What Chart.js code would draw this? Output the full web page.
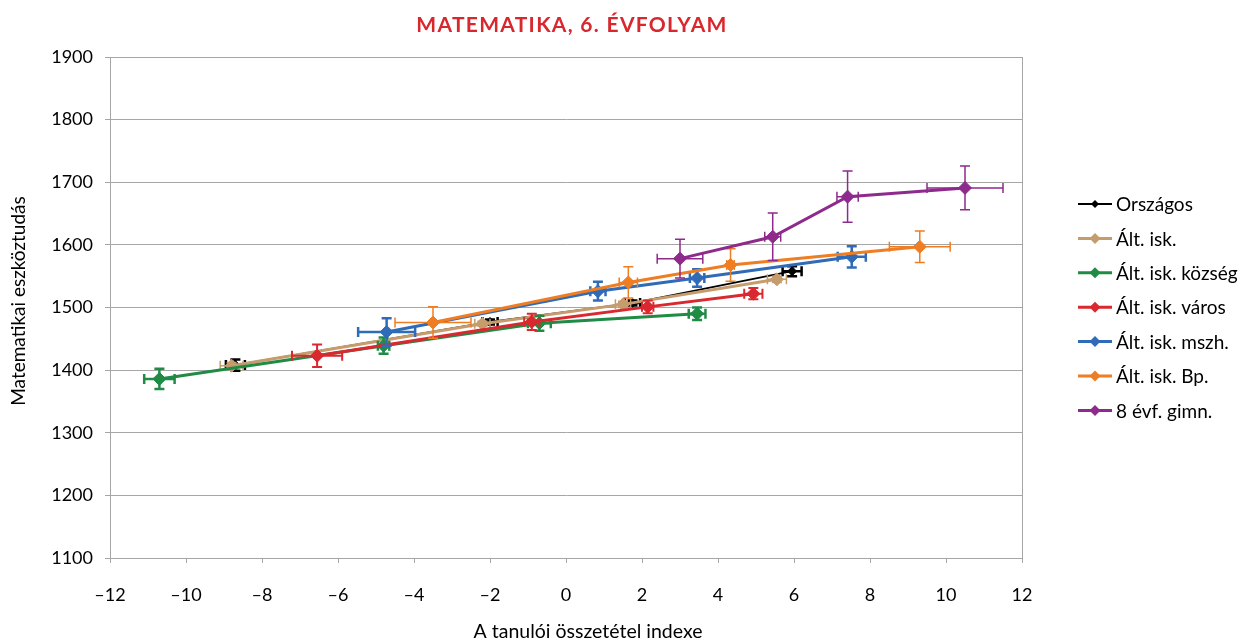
<!DOCTYPE html>
<html>
<head>
<meta charset="utf-8">
<script src="https://cdn.jsdelivr.net/npm/chart.js@4.4.1/dist/chart.umd.min.js"></script>
<style>
  html, body { margin: 0; padding: 0; background: #fff; }
  #wrap { width: 1246px; height: 643px; position: relative; }
</style>
</head>
<body>
<div id="wrap"><canvas id="chart"></canvas></div>
<script>
// series
const seriesNames = ['Országos', 'Ált. isk.', 'Ált. isk. község', 'Ált. isk. város', 'Ált. isk. mszh.', 'Ált. isk. Bp.', '8 évf. gimn.'];
const seriesColors = ['#000000', '#c69c6d', '#1f8b45', '#d9282f', '#2f6bb7', '#ee7d23', '#8e2a8c'];

// összetétel index (x)
const indexX = [
    [-8.7, -2.0, 1.75, 5.95],
    [-8.8, -2.2, 1.5, 5.55],
    [-10.7, -4.8, -0.7, 3.45],
    [-6.55, -0.9, 2.15, 4.93],
    [-4.72, 0.84, 3.45, 7.52],
    [-3.5, 1.64, 4.33, 9.31],
    [3.0, 5.44, 7.41, 10.5]
];
// eszköztudás (y)
const scoreY = [
    [1408, 1477, 1507, 1558],
    [1407, 1474, 1505, 1545],
    [1386, 1439, 1475, 1490],
    [1423, 1477, 1501, 1522],
    [1461, 1526, 1547, 1581],
    [1476, 1540, 1568, 1597],
    [1578, 1613, 1677, 1691]
];
// error bars (half widths)
const indexErr = [
    [0.25, 0.2, 0.2, 0.25],
    [0.3, 0.2, 0.2, 0.25],
    [0.4, 0.15, 0.3, 0.22],
    [0.66, 0.2, 0.15, 0.24],
    [0.75, 0.2, 0.19, 0.37],
    [1.0, 0.24, 0.1, 0.8],
    [0.6, 0.21, 0.28, 1.0]
];
const scoreErr = [
    [9, 4, 4, 8],
    [5, 4, 5, 5],
    [16, 13, 12, 10],
    [18, 13, 10, 9],
    [22, 15, 14, 17],
    [25, 25, 26, 25],
    [31, 38, 41, 35]
];

const chartTitle = 'MATEMATIKA, 6. ÉVFOLYAM';
const xTitle = 'A tanulói összetétel indexe';
const yTitle = 'Matematikai eszköztudás';

const FONT = 'Lato, "Open Sans", sans-serif';
const GRID = '#a6a6a6';

const lineWidths = [1.8, 3, 3, 3, 3, 3, 3];
const errWidths = [2.5, 1.5, 2.5, 2, 2.5, 1.5, 1.5];

const datasets = seriesNames.map((name, i) => ({
    label: name,
    data: indexX[i].map((x, j) => ({ x: x, y: scoreY[i][j] })),
    borderColor: seriesColors[i],
    backgroundColor: seriesColors[i],
    borderWidth: lineWidths[i],
    pointStyle: 'rectRot',
    pointRadius: i === 0 ? 4.5 : 6.5,
    pointBorderWidth: 1,
    showLine: true,
    tension: 0,
    order: seriesNames.length - 1 - i   // later series on top, like the original
}));

// x and y error bars, drawn under each series' own markers
const errorBars = {
    id: 'errorBars',
    beforeDatasetDraw(chart, args) {
        const i = args.index;
        const xs = chart.scales.x, ys = chart.scales.y;
        const ctx = chart.ctx;
        const cap = 5;
        ctx.save();
        ctx.strokeStyle = seriesColors[i];
        ctx.lineWidth = errWidths[i];
        indexX[i].forEach((x, j) => {
            const y = scoreY[i][j];
            const px = xs.getPixelForValue(x), py = ys.getPixelForValue(y);
            const x0 = xs.getPixelForValue(x - indexErr[i][j]);
            const x1 = xs.getPixelForValue(x + indexErr[i][j]);
            const y0 = ys.getPixelForValue(y - scoreErr[i][j]);
            const y1 = ys.getPixelForValue(y + scoreErr[i][j]);
            ctx.beginPath();
            ctx.moveTo(x0, py); ctx.lineTo(x1, py);
            ctx.moveTo(x0, py - cap); ctx.lineTo(x0, py + cap);
            ctx.moveTo(x1, py - cap); ctx.lineTo(x1, py + cap);
            ctx.moveTo(px, y0); ctx.lineTo(px, y1);
            ctx.moveTo(px - cap, y0); ctx.lineTo(px + cap, y0);
            ctx.moveTo(px - cap, y1); ctx.lineTo(px + cap, y1);
            ctx.stroke();
        });
        ctx.restore();
    }
};

// frame, titles and the line+diamond legend
const decorations = {
    id: 'decorations',
    afterDraw(chart) {
        const ctx = chart.ctx;
        const a = chart.chartArea;
        ctx.save();
        ctx.strokeStyle = GRID;
        ctx.lineWidth = 1;
        ctx.strokeRect(Math.round(a.left) + 0.5, Math.round(a.top) + 0.5,
            Math.round(a.right - a.left), Math.round(a.bottom - a.top));

        ctx.fillStyle = '#d9272e';
        ctx.font = 'bold 21px ' + FONT;
        ctx.letterSpacing = '1.3px';
        ctx.textAlign = 'center';
        ctx.textBaseline = 'middle';
        ctx.fillText(chartTitle, 572, 25);
        ctx.letterSpacing = '0px';

        ctx.fillStyle = '#000';
        ctx.font = '19.5px ' + FONT;
        ctx.fillText(xTitle, 588, 632);

        ctx.save();
        ctx.font = '19px ' + FONT;
        ctx.translate(19, 301);
        ctx.rotate(-Math.PI / 2);
        ctx.fillText(yTitle, 0, 0);
        ctx.restore();

        // legend
        ctx.textAlign = 'left';
        ctx.font = '19px ' + FONT;
        seriesNames.forEach((name, i) => {
            const y = 204 + i * 34.4;
            ctx.strokeStyle = seriesColors[i];
            ctx.lineWidth = i === 0 ? 1.8 : 3;
            ctx.beginPath();
            ctx.moveTo(1078, y); ctx.lineTo(1112, y);
            ctx.stroke();
            const r = i === 0 ? 4 : 5.5;
            ctx.fillStyle = seriesColors[i];
            ctx.beginPath();
            ctx.moveTo(1095 - r, y); ctx.lineTo(1095, y - r);
            ctx.lineTo(1095 + r, y); ctx.lineTo(1095, y + r);
            ctx.closePath();
            ctx.fill();
            ctx.fillStyle = '#000';
            ctx.fillText(name, 1116, y + 1);
        });
        ctx.restore();
    }
};

new Chart(document.getElementById('chart'), {
    type: 'scatter',
    data: { datasets: datasets },
    plugins: [errorBars, decorations],
    options: {
        responsive: true,
        maintainAspectRatio: false,
        animation: false,
        layout: { padding: { top: 57, right: 224, left: 0, bottom: 0 } },
        plugins: {
            legend: { display: false },
            title: { display: false },
            tooltip: { enabled: false }
        },
        scales: {
            x: {
                type: 'linear',
                min: -12,
                max: 12,
                afterFit(scale) { scale.height = 85; },
                ticks: {
                    stepSize: 2,
                    color: '#000',
                    padding: 21,
                    font: { family: FONT, size: 18 },
                    callback: v => v < 0 ? '\u2013' + Math.abs(v) : String(v)
                },
                grid: { drawOnChartArea: false, color: GRID, tickLength: 5 },
                border: { color: GRID }
            },
            y: {
                type: 'linear',
                min: 1100,
                max: 1900,
                afterFit(scale) { scale.width = 110; },
                ticks: {
                    stepSize: 100,
                    color: '#000',
                    padding: 12,
                    font: { family: FONT, size: 18 },
                    callback: v => String(v)
                },
                grid: { color: GRID, tickLength: 5 },
                border: { color: GRID }
            }
        }
    }
});
</script>
</body>
</html>
